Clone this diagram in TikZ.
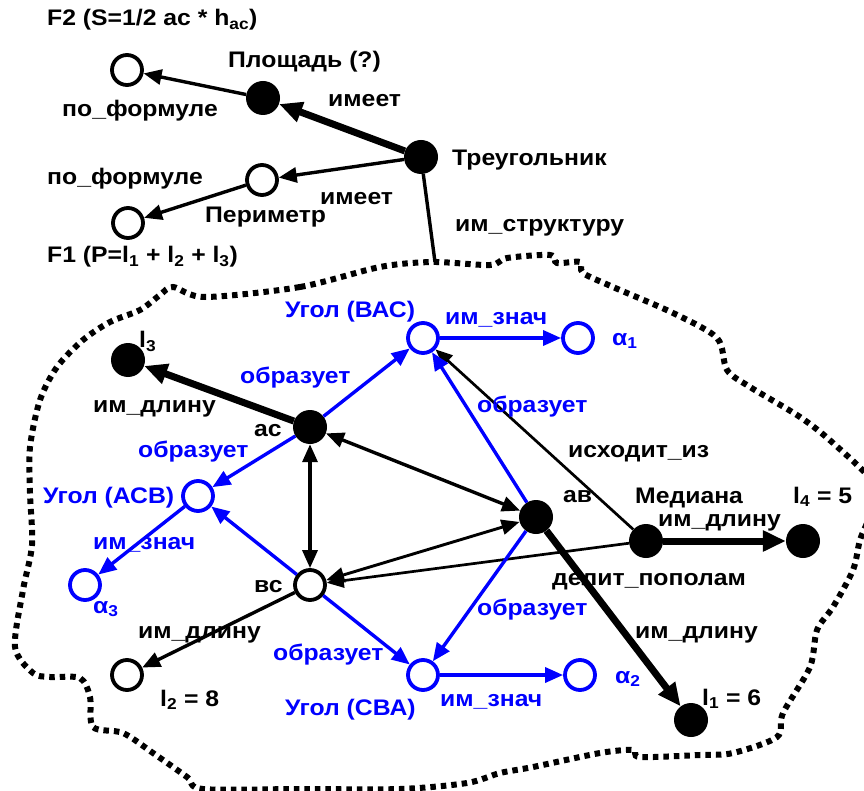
\documentclass[tikz,border=0pt]{standalone}
\usepackage{fontspec}
\setmainfont{Liberation Sans}[FakeStretch=1.1]
\usetikzlibrary{arrows.meta}

\begin{document}
\begin{tikzpicture}[
    x=1pt, y=-1pt,
    full/.style={circle, fill=black, minimum size=34pt, inner sep=0pt},
    hollow/.style={circle, draw, line width=3.8pt, fill=white, minimum size=30pt, inner sep=0pt},
    bluehollow/.style={hollow, draw=blue},
    txt/.style={font=\fontsize{22.5}{26}\selectfont\bfseries, inner sep=0pt, anchor=base west},
    bluetxt/.style={txt, text=blue},
    arrow/.style={-{Triangle[length=18pt,width=15pt]}, line width=3.4pt},
    heavy/.style={-{Triangle[length=23pt,width=20pt]}, line width=7pt},
    slim/.style={-{Triangle[length=17pt,width=14pt]}, line width=2.7pt},
    both/.style={{Triangle[length=18pt,width=15pt]}-{Triangle[length=18pt,width=15pt]}, line width=3.4pt},
    bluearrow/.style={arrow, blue},
    cloudline/.style={line width=6pt, dash pattern=on 5.5pt off 5pt}
]
\useasboundingbox (0,0) rectangle (864,791);

% structure of the triangle (dotted cloud)
\begin{scope}
\clip (0,0) rectangle (864,791);
\draw[cloudline] plot[smooth cycle, tension=0.5] coordinates {
    (205,297) (300,287) (380,267) (433,262) (490,265) (507,258) (550,255)
    (557,263) (580,262) (583,273) (613,287) (673,313) (717,338) (727,370)
    (750,387) (800,417) (833,443) (875,485) (870,515) (860,540) (853,570)
    (833,607) (817,630) (810,667) (783,713) (777,737) (733,753) (700,755)
    (640,757) (633,750) (600,753) (533,767) (500,773) (467,783) (400,789)
    (300,789) (203,789) (187,777) (153,753) (123,733) (93,727) (90,697)
    (80,678) (50,677) (33,673) (15,647) (23,590) (32,545) (30,493) (30,447)
    (40,400) (57,367) (83,340) (110,322) (140,310) (160,295) (173,287)};
\end{scope}

% upper part
\node[full] (tri) at (421,157) {};
\node[full] (area) at (263,98) {};
\node[hollow] (perim) at (262,180) {};
\node[hollow] (ftwo) at (127,70) {};
\node[hollow] (fone) at (128,223) {};
\coordinate (struct) at (435,262);

\draw[heavy] (tri) -- (area);
\draw[arrow] (area) -- (ftwo);
\draw[arrow] (tri) -- (perim);
\draw[arrow] (perim) -- (fone);
\draw[line width=3.4pt] (tri) -- (struct);

\node[txt] (ftwolbl) at (47,26) {F2 (S=1/2 ac * h\textsubscript{ac})};
\node[txt] (arealbl) at (228,68) {Площадь (?)};
\node[txt] (hasone) at (328,107) {имеет};
\node[txt] (formone) at (62,117) {по\_формуле};
\node[txt] (trilbl) at (452,166) {Треугольник};
\node[txt] (formtwo) at (47,185) {по\_формуле};
\node[txt] (hastwo) at (320,205) {имеет};
\node[txt] (perimlbl) at (205,223) {Периметр};
\node[txt] (fonelbl) at (47,263) {F1 (P=l\textsubscript{1} + l\textsubscript{2} + l\textsubscript{3})};
\node[txt] (structlbl) at (455,232) {им\_структуру};

% lower part: sides, angles, median
\node[full] (ac) at (310,427) {};
\node[full] (ab) at (536,517) {};
\node[hollow] (bc) at (310,585) {};
\node[full] (lthree) at (128,360) {};
\node[hollow] (ltwo) at (127,675) {};
\node[full] (lone) at (691,720) {};
\node[full] (med) at (646,541) {};
\node[full] (lfour) at (803,541) {};
\node[bluehollow] (angA) at (423,338) {};
\node[bluehollow] (angC) at (198,496) {};
\node[bluehollow] (angB) at (423,675) {};
\node[bluehollow] (alone) at (578,338) {};
\node[bluehollow] (althree) at (85,585) {};
\node[bluehollow] (altwo) at (580,675) {};

\draw[heavy] (ac) -- (lthree);
\draw[heavy] (ab) -- (lone);
\draw[heavy] (med) -- (lfour);
\draw[both] (ac) -- (bc);
\draw[both] (ac) -- (ab);
\draw[both, line width=2.9pt] (bc) -- (ab);
\draw[arrow] (bc) -- (ltwo);
\draw[slim] (med) -- (angA);
\draw[slim] (med) -- (bc);
\draw[bluearrow] (ac) -- (angA);
\draw[bluearrow] (ac) -- (angC);
\draw[bluearrow] (bc) -- (angC);
\draw[bluearrow] (bc) -- (angB);
\draw[bluearrow] (ab) -- (angA);
\draw[bluearrow] (ab) -- (angB);
\draw[bluearrow] (angA) -- (alone);
\draw[bluearrow] (angC) -- (althree);
\draw[bluearrow] (angB) -- (altwo);

\node[txt] (lthreelbl) at (139,348) {l\textsubscript{3}};
\node[bluetxt] (formsone) at (240,383) {образует};
\node[txt] (lenthree) at (93,412) {им\_длину};
\node[txt] (aclbl) at (254,436) {ас};
\node[bluetxt] (formstwo) at (138,457) {образует};
\node[bluetxt] (angClbl) at (43,503) {Угол (АСВ)};
\node[bluetxt] (angAlbl) at (285,317) {Угол (ВАС)};
\node[bluetxt] (valone) at (445,324) {им\_знач};
\node[bluetxt] (alonelbl) at (612,345) {α\textsubscript{1}};
\node[bluetxt] (formsthree) at (477,412) {образует};
\node[txt] (fromlbl) at (568,457) {исходит\_из};
\node[txt] (ablbl) at (563,502) {ав};
\node[txt] (medlbl) at (635,503) {Медиана};
\node[txt] (lfourlbl) at (793,503) {l\textsubscript{4} = 5};
\node[txt] (lenfour) at (658,526) {им\_длину};
\node[txt] (halflbl) at (552,585) {делит\_пополам};
\node[bluetxt] (valthree) at (93,549) {им\_знач};
\node[txt] (bclbl) at (254,592) {вс};
\node[bluetxt] (althreelbl) at (93,613) {α\textsubscript{3}};
\node[txt] (lentwo) at (138,638) {им\_длину};
\node[bluetxt] (formsfour) at (273,660) {образует};
\node[txt] (ltwolbl) at (160,706) {l\textsubscript{2} = 8};
\node[bluetxt] (angBlbl) at (285,715) {Угол (СВА)};
\node[bluetxt] (valtwo) at (440,706) {им\_знач};
\node[bluetxt] (altwolbl) at (615,683) {α\textsubscript{2}};
\node[bluetxt] (formsfive) at (477,615) {образует};
\node[txt] (lenone) at (635,638) {им\_длину};
\node[txt] (lonelbl) at (702,705) {l\textsubscript{1} = 6};
\end{tikzpicture}
\end{document}
